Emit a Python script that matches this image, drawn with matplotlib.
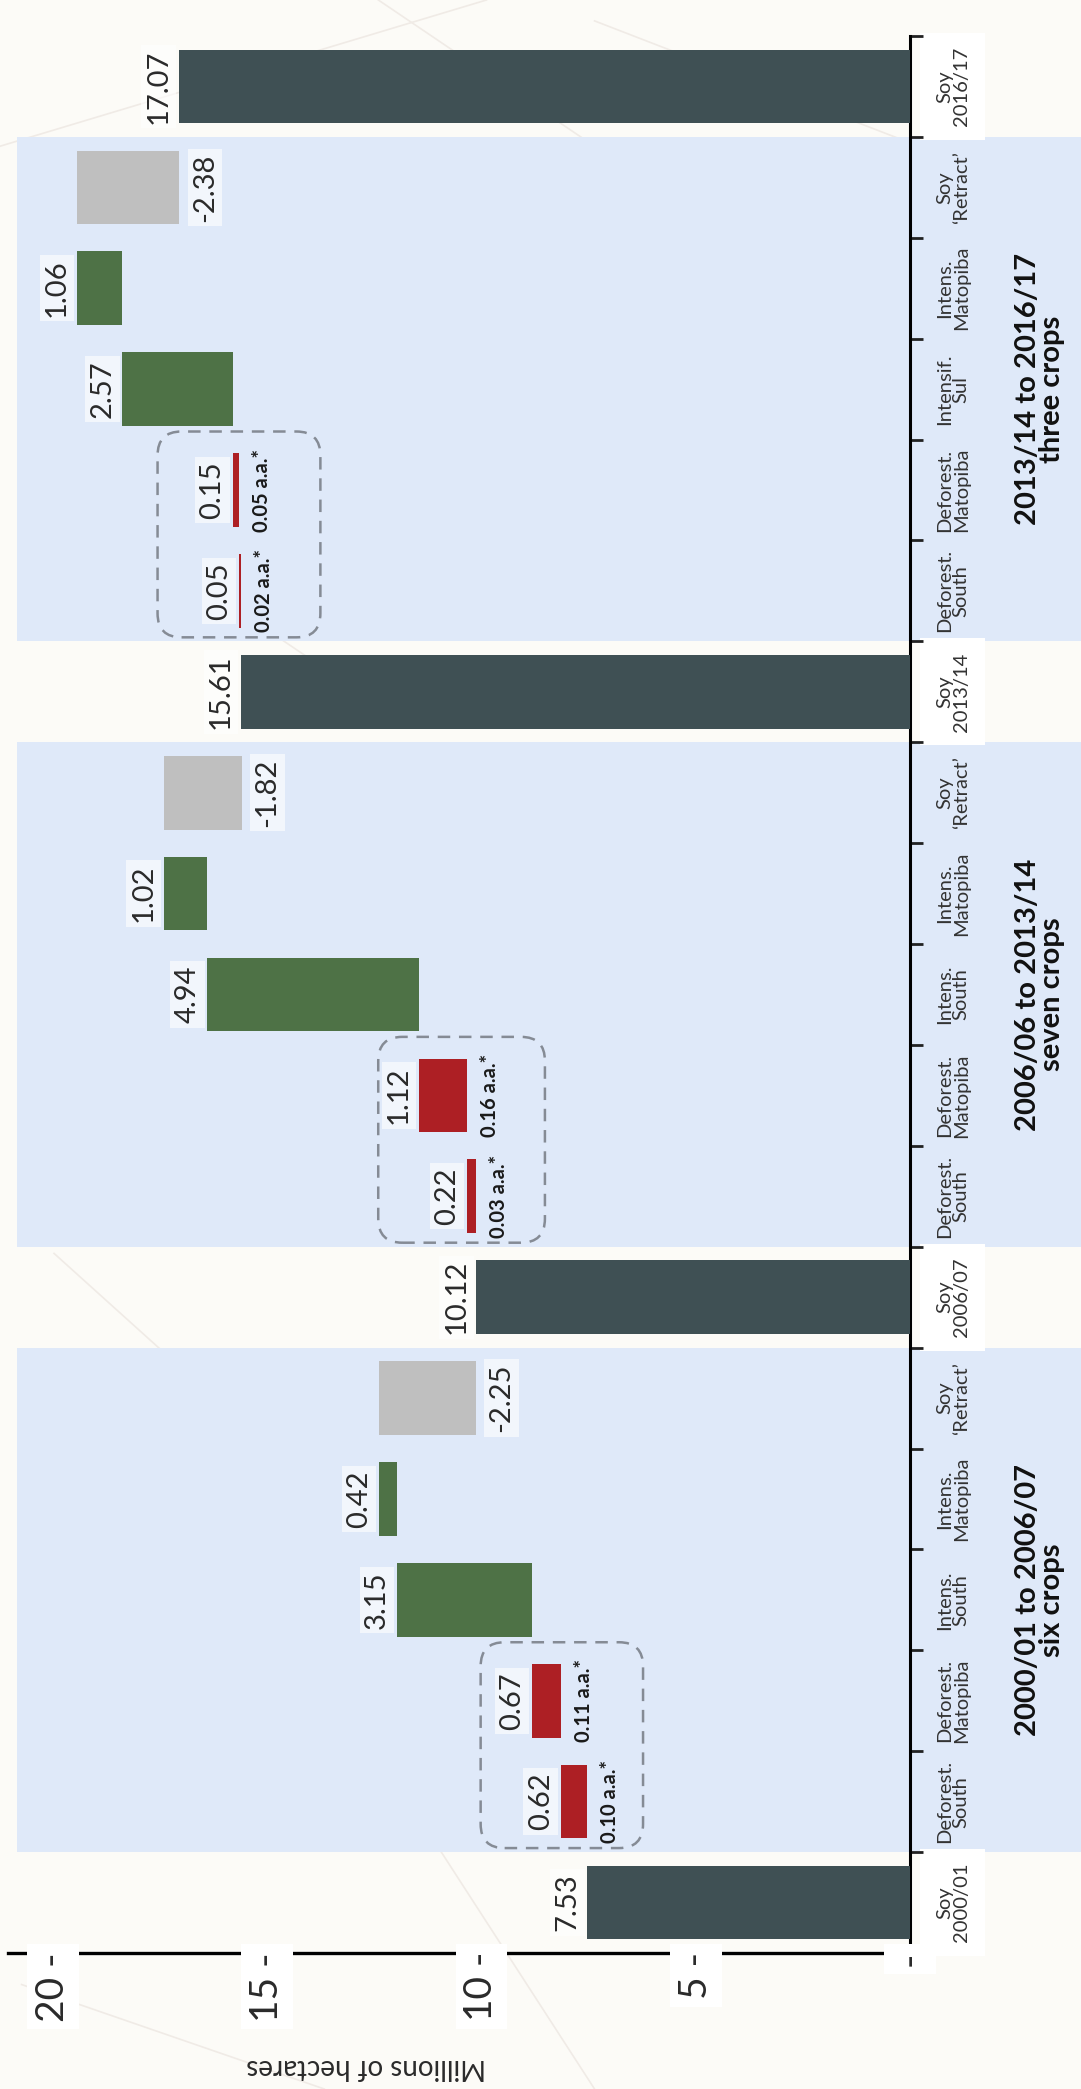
import matplotlib
matplotlib.use("Agg")
import matplotlib.pyplot as plt
from matplotlib.patches import Rectangle, FancyBboxPatch
from matplotlib.transforms import blended_transform_factory, IdentityTransform

plt.rcParams['font.family'] = ['Lato', 'DejaVu Sans']

# ---------------- data ----------------
categories = ["Soy\n2000/01", "Deforest.\nSouth", "Deforest.\nMatopiba", "Intens.\nSouth",
              "Intens.\nMatopiba", "Soy\n\u2018Retract\u2019", "Soy\n2006/07",
              "Deforest.\nSouth", "Deforest.\nMatopiba", "Intens.\nSouth",
              "Intens.\nMatopiba", "Soy\n\u2018Retract\u2019", "Soy\n2013/14",
              "Deforest.\nSouth", "Deforest.\nMatopiba", "Intensif.\nSul",
              "Intens.\nMatopiba", "Soy\n\u2018Retract\u2019", "Soy\n2016/17"]
kinds = ["total", "defor", "defor", "intens", "intens", "retract", "total",
         "defor", "defor", "intens", "intens", "retract", "total",
         "defor", "defor", "intens", "intens", "retract", "total"]
values = [7.53, 0.62, 0.67, 3.15, 0.42, -2.25, 10.12,
          0.22, 1.12, 4.94, 1.02, -1.82, 15.61,
          0.05, 0.15, 2.57, 1.06, -2.38, 17.07]
annual_rates = [None, "0.10", "0.11", None, None, None, None,
                "0.03", "0.16", None, None, None, None,
                "0.02", "0.05", None, None, None, None]
group_titles = ["2000/01 to 2006/07\nsix crops",
                "2006/06 to 2013/14\nseven crops",
                "2013/14 to 2016/17\nthree crops"]
group_members = [[1, 2, 3, 4, 5], [7, 8, 9, 10, 11], [13, 14, 15, 16, 17]]
deforest_pairs = [[1, 2], [7, 8], [13, 14]]
x_ticks = [20, 15, 10, 5, 0]
x_tick_labels = ["20 -", "15 -", "10 -", "5 -", "-"]
x_label = "Millions of hectares"

# ---------------- style ----------------
colors = {"total": "#3f5054", "defor": "#ad1f24", "intens": "#4e7246", "retract": "#bfbfbf"}
band_color = "#dfe9f9"
bg_color = "#fcfbf7"
text_color = "#2a2a2a"

W, H = 1081, 2089
fig = plt.figure(figsize=(W / 100, H / 100), dpi=100)
fig.patch.set_facecolor(bg_color)

# faint decorative background strokes
for (xa, ya, xb, yb) in [(0.0, 0.93, 0.45, 1.0), (0.35, 1.0, 0.75, 0.86), (0.55, 0.99, 1.0, 0.9),
                         (0.02, 0.05, 0.3, 0.0), (0.4, 0.12, 0.55, 0.0), (0.05, 0.4, 0.2, 0.33),
                         (0.1, 0.75, 0.3, 0.68), (0.6, 0.45, 0.9, 0.5)]:
    fig.add_artist(plt.Line2D([xa, xb], [ya, yb], transform=fig.transFigure,
                              color="#f0ebe6", lw=1.2, zorder=-1))

ax_left, ax_right, ax_bottom, ax_top = 8, 910, 136, 2053
ax = fig.add_axes([ax_left / W, ax_bottom / H, (ax_right - ax_left) / W, (ax_top - ax_bottom) / H])
ax.set_facecolor("none")
n = len(categories)
ax.set_ylim(-0.5, n - 0.5)
ax.set_xlim((ax_right - ax_left) / 42.85, 0)

for s in ["left", "top"]:
    ax.spines[s].set_visible(False)
ax.spines["right"].set_linewidth(2.2)
ax.spines["bottom"].set_linewidth(2.4)
ax.spines["bottom"].set_zorder(2)
ax.set_xticks([])
ax.yaxis.tick_right()
ax.set_yticks([i - 0.5 for i in range(n + 1)])
ax.set_yticklabels([])
ax.tick_params(axis="y", direction="out", length=9, width=2, color="#222222")

figy = blended_transform_factory(fig.transFigure, ax.transData)

# group bands
for members in group_members:
    y0 = min(members) - 0.5
    y1 = max(members) + 0.5
    ax.add_patch(Rectangle((17 / W, y0), 1 - 17 / W, y1 - y0, transform=figy,
                           facecolor=band_color, edgecolor="none", zorder=0, clip_on=False))

# white boxes behind total labels
for i, k in enumerate(kinds):
    if k == "total":
        ax.add_patch(Rectangle((920 / W, i - 0.53), 65 / W, 1.06, transform=figy,
                               facecolor="white", edgecolor="none", zorder=1, clip_on=False))

# bars (waterfall)
running = 0.0
starts, ends = [], []
for i, (k, v) in enumerate(zip(kinds, values)):
    if k == "total":
        start, end = 0.0, v
    else:
        start, end = running, running + v
    running = end
    starts.append(start)
    ends.append(end)
    ax.barh(i, end - start, left=start, height=0.73, color=colors[k],
            edgecolor="none", zorder=3)

# value labels
for i, (k, v) in enumerate(zip(kinds, values)):
    lbl = f"{v:.2f}"
    bb = dict(boxstyle="square,pad=0.15", facecolor="white", edgecolor="none", alpha=0.6)
    if k == "retract":
        ax.annotate(lbl, xy=(ends[i], i), xytext=(13, 0), textcoords="offset pixels",
                    rotation=90, ha="left", va="center", fontsize=21,
                    color=text_color, zorder=6, bbox=bb)
    else:
        ax.annotate(lbl, xy=(ends[i], i), xytext=(-7, 0), textcoords="offset pixels",
                    rotation=90, ha="right", va="center", fontsize=21,
                    color=text_color, zorder=6, bbox=bb)
    if annual_rates[i] is not None:
        ax.annotate(annual_rates[i] + " a.a.*", xy=(starts[i], i), xytext=(13, 0),
                    textcoords="offset pixels", rotation=90, ha="left", va="center",
                    fontsize=14.5, fontweight="bold", color="#1a1a1a", zorder=6)

# category labels
for i, c in enumerate(categories):
    ax.text(953 / W, i, c, transform=figy, rotation=90, ha="center", va="center",
            multialignment="center", fontsize=14.5, linespacing=0.95, color="#333333",
            zorder=6, clip_on=False)

# group titles
for title, members in zip(group_titles, group_members):
    yc = (min(members) + max(members)) / 2
    ax.text(1040 / W, yc, title, transform=figy, rotation=90, ha="center", va="center",
            multialignment="center", fontsize=21, fontweight="bold", linespacing=0.95,
            color="#111111", zorder=6, clip_on=False)

# x tick labels (rotated) with white boxes covering the axis line
for v, t in zip(x_ticks, x_tick_labels):
    ax.annotate(t, xy=(v, 0), xycoords=("data", "axes fraction"), xytext=(0, 1),
                textcoords="offset pixels", rotation=90, ha="center", va="top",
                fontsize=28, color=text_color, zorder=7, annotation_clip=False,
                bbox=dict(boxstyle="square,pad=0.2", facecolor="white", edgecolor="none"))

ax.text(366 / W, 22 / H, x_label, transform=fig.transFigure, rotation=180,
        ha="center", va="center", fontsize=20, color=text_color)

# dashed rounded boxes around deforestation pairs
pads_hi = [1.2, 0.95, 1.75]
pads_lo = [1.3, 1.6, 1.85]
fig.canvas.draw()
for pair, ph, pl in zip(deforest_pairs, pads_hi, pads_lo):
    hi = max(ends[j] for j in pair) + ph
    lo = min(starts[j] for j in pair) - pl
    y0 = min(pair) - 0.46
    y1 = max(pair) + 0.58
    (px0, py0) = ax.transData.transform((hi, y0))
    (px1, py1) = ax.transData.transform((lo, y1))
    box = FancyBboxPatch((px0, py0), px1 - px0, py1 - py0,
                         boxstyle="round,pad=0,rounding_size=24",
                         transform=IdentityTransform(), facecolor="none",
                         edgecolor="#858b95", linewidth=1.8, linestyle=(0, (5, 3.5)),
                         zorder=4)
    fig.add_artist(box)

fig.savefig("out.png", dpi=100, facecolor=fig.get_facecolor())
